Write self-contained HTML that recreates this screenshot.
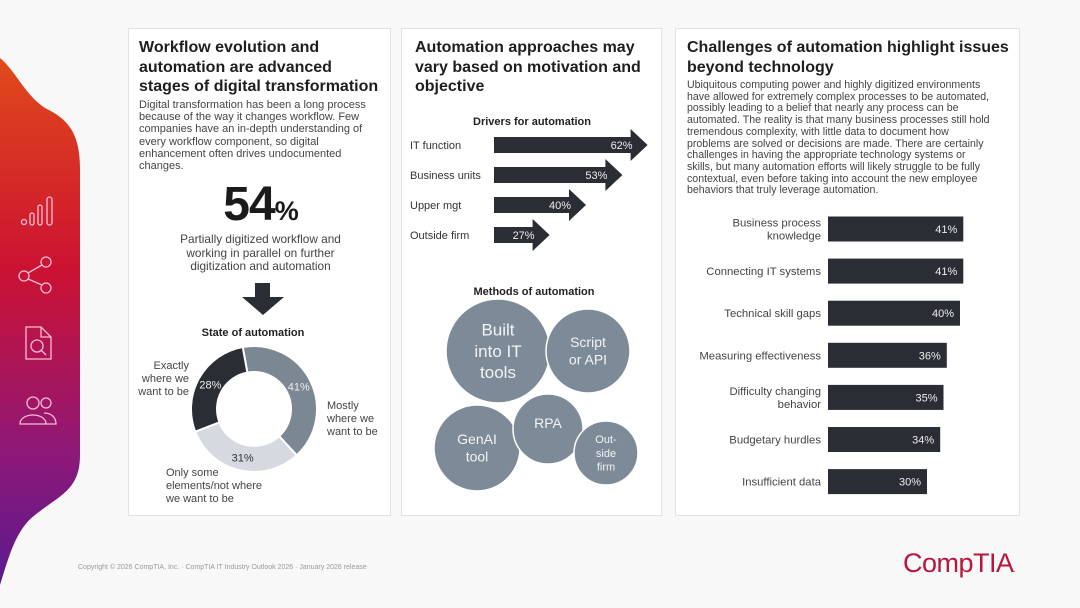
<!DOCTYPE html>
<html><head><meta charset="utf-8"><style>
body{margin:0;width:1080px;height:608px;background:#f8f8f8;font-family:"Liberation Sans",sans-serif;position:relative;overflow:hidden;color:#222}
.panel{position:absolute;top:28px;height:488px;background:#fff;border:1px solid #e2e2e2;box-sizing:border-box}
.t{position:absolute;font-weight:bold;font-size:16px;line-height:19.5px;color:#1e1e1e;white-space:nowrap}
.b{position:absolute;font-size:11px;line-height:12.2px;color:#444;white-space:nowrap}
svg text{font-family:"Liberation Sans",sans-serif}
</style></head><body>
<svg style="position:absolute;left:0;top:0" width="130" height="608">
<defs><linearGradient id="g" x1="0" y1="0" x2="0" y2="1"><stop offset="0" stop-color="#e04a1a"/><stop offset="0.4" stop-color="#cc1232"/><stop offset="0.75" stop-color="#8e1878"/><stop offset="1" stop-color="#5a1a90"/></linearGradient></defs>
<path d="M0,58 C15,70 25,95 45,108 C70,120 80,135 80,170 L80,455 C80,490 60,495 35,515 C15,530 8,560 0,585 Z" fill="url(#g)"/>
<g fill="none" stroke="#f6bcd6" stroke-width="1.3">
<circle cx="24" cy="222" r="2.5"/><rect x="30" y="213" width="4" height="12" rx="2"/><rect x="38" y="205" width="4" height="20" rx="2"/><rect x="47" y="197" width="5" height="28" rx="2.5"/>
<circle cx="24" cy="276" r="5"/><circle cx="46" cy="262" r="5"/><circle cx="46" cy="288" r="5"/><line x1="28" y1="273" x2="42" y2="265"/><line x1="28" y1="279" x2="42" y2="285"/>
<path d="M26,327 h15 l10,10 v22 h-25 z M41,327 v10 h10"/><circle cx="37" cy="346" r="6"/><line x1="41" y1="350" x2="46" y2="355"/>
<circle cx="33" cy="403" r="6"/><circle cx="46" cy="403" r="5"/><path d="M20,424 c0,-12 26,-12 26,0 z M44,413 c7,0 12,4 12,11 h-10"/>
</g></svg>

<div class="panel" style="left:128px;width:263px">
<div class="t" style="left:10px;top:9px">Workflow evolution and<br>automation are advanced<br>stages of digital transformation</div>
<div class="b" style="left:10px;top:70px">Digital transformation has been a long process<br>because of the way it changes workflow. Few<br>companies have an in-depth understanding of<br>every workflow component, so digital<br>enhancement often drives undocumented<br>changes.</div>
<div style="position:absolute;left:0;width:263px;top:148px;text-align:center;font-weight:bold;font-size:48px;color:#1a1a1a;letter-spacing:-1px">54<span style="font-size:27px">%</span></div>
<div class="b" style="left:0;width:263px;top:204px;text-align:center;font-size:11.8px;line-height:13.5px">Partially digitized workflow and<br>working in parallel on further<br>digitization and automation</div>
<svg style="position:absolute;left:0;top:250px" width="263" height="238">
<path d="M126,4 h15 v14 h14 l-21,18 l-21,-18 h13z" fill="#2a2d33"/>
<text x="124" y="57" text-anchor="middle" font-size="11" font-weight="bold" fill="#222">State of automation</text>
<g id="donut"></g>
<g font-size="11" fill="#444">
<text x="60" y="90" text-anchor="end">Exactly</text><text x="60" y="103" text-anchor="end">where we</text><text x="60" y="116" text-anchor="end">want to be</text>
<text x="198" y="130">Mostly</text><text x="198" y="143">where we</text><text x="198" y="156">want to be</text>
<text x="37" y="197">Only some</text><text x="37" y="210">elements/not where</text><text x="37" y="223">we want to be</text>
</g></svg>
</div>

<div class="panel" style="left:401px;width:261px">
<div class="t" style="left:13px;top:9px">Automation approaches may<br>vary based on motivation and<br>objective</div>
<svg style="position:absolute;left:0;top:0" width="261" height="488" id="drv">
<text x="130" y="96" text-anchor="middle" font-size="11" font-weight="bold" fill="#222">Drivers for automation</text>
<text x="132" y="266" text-anchor="middle" font-size="11" font-weight="bold" fill="#222">Methods of automation</text>
</svg>
</div>

<div class="panel" style="left:675px;width:345px">
<div class="t" style="left:11px;top:9px">Challenges of automation highlight issues<br>beyond technology</div>
<div class="b" style="left:11px;top:51px;font-size:10.6px;line-height:11.7px">Ubiquitous computing power and highly digitized environments<br>have allowed for extremely complex processes to be automated,<br>possibly leading to a belief that nearly any process can be<br>automated. The reality is that many business processes still hold<br>tremendous complexity, with little data to document how<br>problems are solved or decisions are made. There are certainly<br>challenges in having the appropriate technology systems or<br>skills, but many automation efforts will likely struggle to be fully<br>contextual, even before taking into account the new employee<br>behaviors that truly leverage automation.</div>
<svg style="position:absolute;left:0;top:0" width="345" height="488" id="chl"></svg>
</div>

<div style="position:absolute;left:78px;top:564px;font-size:7px;color:#999">Copyright © 2026 CompTIA, Inc. · CompTIA IT Industry Outlook 2026 · January 2026 release</div>
<div style="position:absolute;left:903px;top:548px;font-size:27px;color:#b8163c;letter-spacing:-0.5px">CompTIA<span style="font-size:8px">.</span></div>

<script>
const NS="http://www.w3.org/2000/svg";
function mk(p,tag,a){const e=document.createElementNS(NS,tag);for(const k in a)e.setAttribute(k,a[k]);p.appendChild(e);return e;}
// Donut
const stateLabels=["Mostly where we want to be","Only some elements","Exactly where we want to be"];
const stateValues=[41,31,28];
const stateColors=["#7b8793","#d6d9df","#2a2d33"];
const stateTextColors=["#eef0f3","#333","#eee"];
const dg=document.getElementById('donut');
(function(){const cx=125,cy=130,R=63,r=37;let a0=-0.18;const tot=stateValues.reduce((s,v)=>s+v,0);
stateValues.forEach((v,i)=>{const a1=a0+v/tot*2*Math.PI;
const p=(ang,rad)=>[cx+rad*Math.sin(ang),cy-rad*Math.cos(ang)];
const [x1,y1]=p(a0,R),[x2,y2]=p(a1,R),[x3,y3]=p(a1,r),[x4,y4]=p(a0,r);const lg=(a1-a0)>Math.PI?1:0;
const s=mk(dg,'path',{d:`M${x1},${y1}A${R},${R} 0 ${lg} 1 ${x2},${y2}L${x3},${y3}A${r},${r} 0 ${lg} 0 ${x4},${y4}Z`,fill:stateColors[i],stroke:'#fff','stroke-width':2});


const m=(a0+a1)/2;const [tx,ty]=p(m,50);
const t=mk(dg,'text',{x:tx,y:ty+4,'text-anchor':'middle','font-size':11,fill:stateTextColors[i]});t.textContent=v+'%';


a0=a1;});})();
// Drivers
const driverLabels=["IT function","Business units","Upper mgt","Outside firm"];
const driverValues=[62,53,40,27];
const drv=document.getElementById('drv');
const dx=v=>72+v*2.8;
driverLabels.forEach((l,i)=>{const cy=116+i*30,x0=92,tip=dx(driverValues[i]),hx=tip-17;
const a=mk(drv,'path',{d:`M${x0},${cy-8}H${hx}V${cy-16}L${tip},${cy}L${hx},${cy+16}V${cy+8}H${x0}Z`,fill:'#2a2d33'});


const t=mk(drv,'text',{x:8,y:cy+4,'font-size':11,fill:'#333'});t.textContent=l;


const v=mk(drv,'text',{x:hx+2,y:cy+4,'text-anchor':'end','font-size':11,fill:'#eee'});v.textContent=driverValues[i]+'%';

});
// Bubbles
const bubbles=[["Built","into IT","tools"],["Script","or API"],["GenAI","tool"],["RPA"],["Out-","side","firm"]];
const bubbleSizes=[52,42,43,35,32];
const bpos=[[96,322],[186,322],[75,419],[146,400],[204,424]];
const fs=[17,14,14,14,11];
bubbles.forEach((lines,i)=>{const [cx,cy]=bpos[i];
const c=mk(drv,'circle',{cx,cy,r:bubbleSizes[i],fill:'#7d8a98',stroke:'#fff','stroke-width':1.5});


lines.forEach((s,j)=>{const t=mk(drv,'text',{x:cx,y:cy+(j-(lines.length-1)/2)*fs[i]*1.25+fs[i]*0.35-(i==3?6:0),'text-anchor':'middle','font-size':fs[i],fill:'#f2f4f6'});t.textContent=s;

});});
// Challenges
const chLabels=[["Business process","knowledge"],["Connecting  IT systems"],["Technical skill gaps"],["Measuring effectiveness"],["Difficulty changing","behavior"],["Budgetary hurdles"],["Insufficient data"]];
const chValues=[41,41,40,36,35,34,30];
const chl=document.getElementById('chl');
const cxs=v=>v*3.3;
chLabels.forEach((ls,i)=>{const cy=200+i*42.1,x0=152,w=cxs(chValues[i]);
const r=mk(chl,'rect',{x:x0,y:cy-12.5,width:w,height:25,fill:'#2a2d33'});


const v=mk(chl,'text',{x:x0+w-6,y:cy+4,'text-anchor':'end','font-size':11,fill:'#eee'});v.textContent=chValues[i]+'%';


ls.forEach((s,j)=>{const t=mk(chl,'text',{x:145,y:cy+4+(j-(ls.length-1)/2)*13,'text-anchor':'end','font-size':11.3,fill:'#444'});t.textContent=s;

});});
</script>
</body></html>
